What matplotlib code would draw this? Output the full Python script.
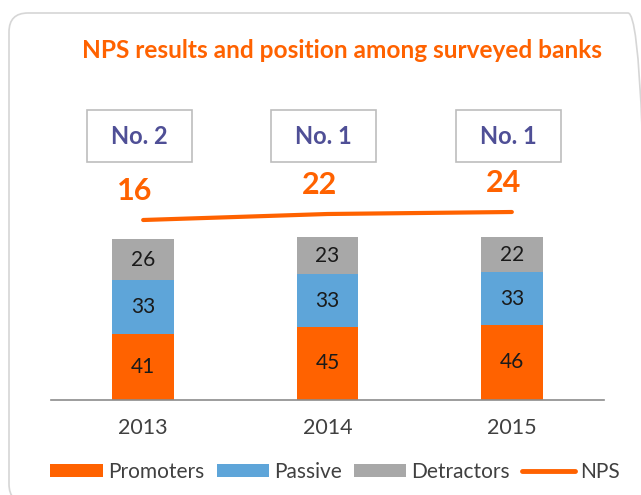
import matplotlib
matplotlib.use("Agg")
import matplotlib.pyplot as plt
from matplotlib.patches import Patch, Rectangle, FancyBboxPatch
from matplotlib.lines import Line2D

# data
years = ["2013", "2014", "2015"]
promoters = [41, 45, 46]
passive = [33, 33, 33]
detractors = [26, 23, 22]
nps = [16, 22, 24]
ranks = ["No. 2", "No. 1", "No. 1"]

ORANGE = "#ff6200"
BLUE = "#5ea5d9"
GRAY = "#a8a8a8"
INDIGO = "#4f4f96"
TEXT = "#404040"

plt.rcParams["font.family"] = ["Lato", "DejaVu Sans"]

W, H = 641, 495
fig = plt.figure(figsize=(W / 100, H / 100), dpi=100)

# rounded frame around the panel (pixel coordinates)
frame = FancyBboxPatch((9, -8), 638, 490, boxstyle="round,pad=0,rounding_size=19",
                       transform=None, facecolor="none", edgecolor="#d6d6d6", lw=1.2)
fig.add_artist(frame)

fig.text(342 / W, 1 - 58 / H, "NPS results and position among surveyed banks",
         ha="center", va="baseline", color=ORANGE, fontsize=17.6, fontweight="bold")

# stacked bars
ax = fig.add_axes([51 / W, 1 - 399.5 / H, 553 / W, 162.5 / H])
x = list(range(len(years)))
bw = 0.336
b1 = ax.bar(x, promoters, bw, color=ORANGE)
b2 = ax.bar(x, passive, bw, bottom=promoters, color=BLUE)
bottom3 = [p + q for p, q in zip(promoters, passive)]
b3 = ax.bar(x, detractors, bw, bottom=bottom3, color=GRAY)
for bars in (b1, b2, b3):
    ax.bar_label(bars, label_type="center", fontsize=15, color="#1a1a1a")

ax.set_xlim(-0.5, 2.5)
ax.set_ylim(0, 101)
ax.set_xticks(x)
ax.set_xticklabels(years, fontsize=15.5, color=TEXT)
ax.tick_params(axis="x", length=0, pad=13)
ax.set_yticks([])
for s in ("top", "left", "right"):
    ax.spines[s].set_visible(False)
ax.spines["bottom"].set_color("#8c8c8c")
ax.spines["bottom"].set_linewidth(1.2)

# NPS line and rank boxes above the bars
ax2 = fig.add_axes([51 / W, 1 - 236 / H, 553 / W, 136 / H])
ax2.set_xlim(-0.5, 2.5)
ax2.set_ylim(0, 136)
ax2.axis("off")
ax2.plot(x, nps, color=ORANGE, lw=3, solid_capstyle="round")
for xi, v in zip(x, nps):
    ax2.annotate(str(v), (xi, v), xytext=(-6, 21), textcoords="offset points",
                 ha="center", va="center", fontsize=22, fontweight="bold", color=ORANGE)

bw_box = 0.569
for xi, r in zip(x, ranks):
    cx = xi - 0.02
    ax2.add_patch(Rectangle((cx - bw_box / 2, 74), bw_box, 52, facecolor="white",
                            edgecolor="#bdbdbd", lw=1.2))
    ax2.text(cx, 100, r, ha="center", va="center", fontsize=17,
             fontweight="bold", color=INDIGO)

handles = [
    Patch(facecolor=ORANGE, label="Promoters"),
    Patch(facecolor=BLUE, label="Passive"),
    Patch(facecolor=GRAY, label="Detractors"),
    Line2D([], [], color=ORANGE, lw=3.5, solid_capstyle="round", label="NPS"),
]
fig.legend(handles=handles, loc="center", bbox_to_anchor=(335 / W, 1 - 472 / H),
           ncol=4, frameon=False, fontsize=15, labelcolor=TEXT,
           handlelength=2.5, handleheight=0.6, handletextpad=0.25,
           columnspacing=0.6, borderpad=0, borderaxespad=0)

fig.savefig("out.png", dpi=100)
